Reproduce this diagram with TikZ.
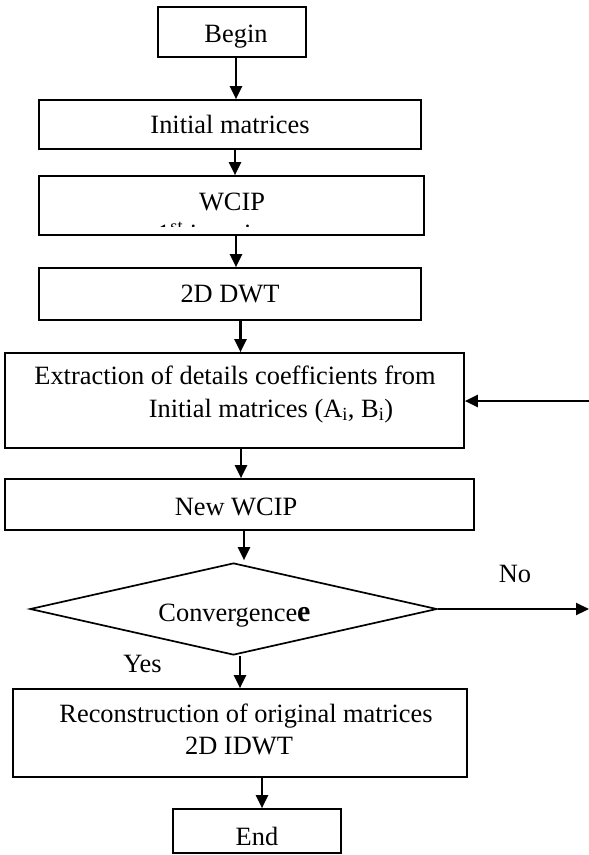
\documentclass[tikz,border=0pt]{standalone}
\usepackage{fontspec}
\setmainfont{Liberation Serif}
\usetikzlibrary{arrows.meta,shapes.geometric}
\begin{document}
\begin{tikzpicture}[x=1pt,y=-1pt,
  box/.style={draw,line width=1.7pt,rectangle,inner sep=0pt},
  decision/.style={draw,line width=1.7pt,diamond,inner sep=0pt,aspect=4.42},
  conn/.style={line width=2.2pt,-{Triangle[length=13pt,width=12pt]}},
  lbl/.style={font=\fontsize{26.4}{30}\selectfont,inner sep=0pt}]
\useasboundingbox (0,0) rectangle (589,855);
% boxes
\node[box,minimum width=148pt,minimum height=50pt] (begin) at (232,32) {};
\node[box,minimum width=382pt,minimum height=49pt] (init) at (230,124.5) {};
\node[box,minimum width=385pt,minimum height=59pt] (wcip) at (231.5,205.5) {};
\node[box,minimum width=382pt,minimum height=52pt] (dwt) at (230,294) {};
\node[box,minimum width=459pt,minimum height=95pt] (extr) at (234.5,400.5) {};
\node[box,minimum width=469pt,minimum height=51pt] (nwcip) at (239.5,504.5) {};
\node[decision,minimum width=407pt,minimum height=92pt] (conv) at (233.5,609) {};
\node[box,minimum width=454pt,minimum height=88pt] (recon) at (240,733) {};
\node[box,minimum width=168pt,minimum height=44pt] (endb) at (257,831) {};
% texts
\node[lbl,anchor=base] (tbegin) at (236,42.5) {Begin};
\node[lbl,anchor=base] (tinit) at (230,133) {Initial matrices};
\node[lbl,anchor=base] (twcip) at (232,210) {WCIP};
\begin{scope}
  \clip (45,219) rectangle (420,226);
  \node[lbl,anchor=base west] (twcipsub) at (157,242) {1\textsuperscript{st} iteration};
\end{scope}
\node[lbl,anchor=base] (tdwt) at (230,302) {2D DWT};
\node[lbl,anchor=base] (textr1) at (235,384) {Extraction of details coefficients from};
\node[lbl,anchor=base] (textr2) at (271,417) {Initial matrices (A\textsubscript{i}, B\textsubscript{i})};
\node[lbl,anchor=base] (tnwcip) at (236,515) {New WCIP};
\node[lbl,anchor=base] (tconv) at (234.5,621) {Convergence{\fontsize{30}{30}\selectfont\bfseries e}};
\node[lbl,anchor=base] (trec1) at (246,722) {Reconstruction of original matrices};
\node[lbl,anchor=base] (trec2) at (239,754) {2D IDWT};
\node[lbl,anchor=base] (tend) at (257,845) {End};
\node[lbl,anchor=base] (tno) at (515,582) {No};
\node[lbl,anchor=base] (tyes) at (142.5,672) {Yes};
% connectors
\coordinate (noend) at (589,609);
\coordinate (fbstart) at (589,401);
\draw[conn] ([xshift=4pt]begin.south) -- ([xshift=6pt]init.north);
\draw[conn] ([xshift=5pt]init.south) -- ([xshift=3.5pt]wcip.north);
\draw[conn] ([xshift=4.5pt]wcip.south) -- ([xshift=6pt]dwt.north);
\draw[conn] ([xshift=10.5pt]dwt.south) -- ([xshift=6pt]extr.north);
\draw[conn] ([xshift=6.5pt]extr.south) -- ([xshift=1.5pt]nwcip.north);
\draw[conn] ([xshift=4.5pt]nwcip.south) -- ([xshift=10.5pt,yshift=2pt]conv.north);
\draw[conn] ([xshift=6.5pt]conv.south) -- (recon.north);
\draw[conn] ([xshift=22pt]recon.south) -- ([xshift=5pt]endb.north);
\draw[conn] (conv.east) -- (noend);
\draw[conn] (fbstart) -- (fbstart -| extr.east);
\end{tikzpicture}
\end{document}
